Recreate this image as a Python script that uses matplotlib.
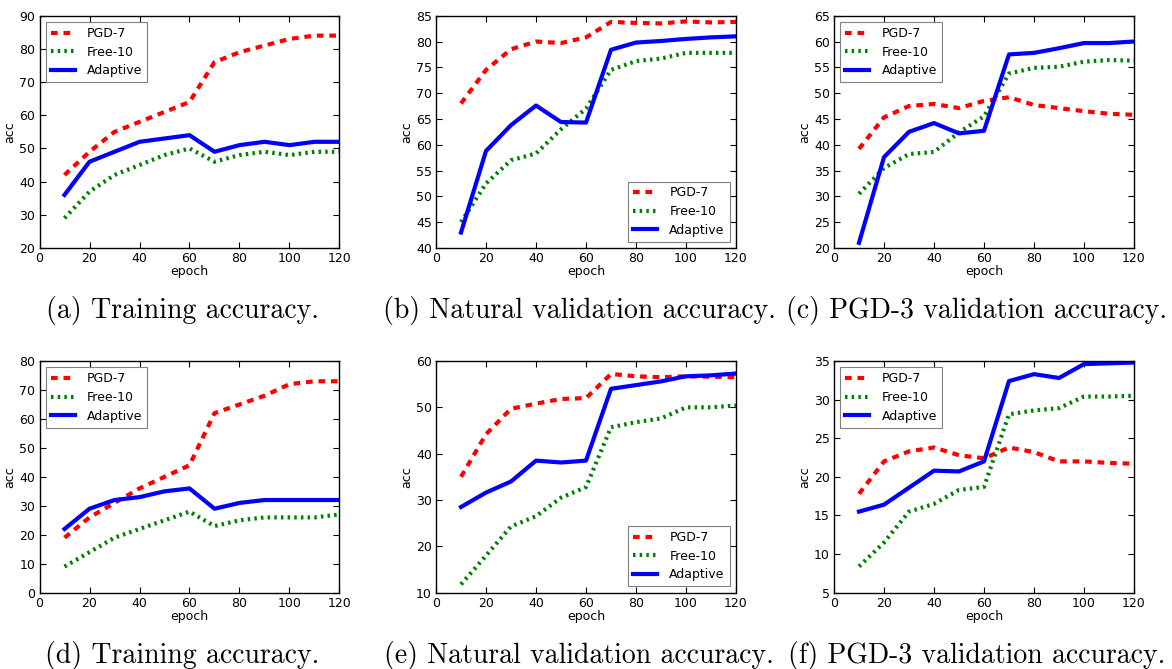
import matplotlib
matplotlib.use("Agg")
import matplotlib.pyplot as plt

epochs = [10, 20, 30, 40, 50, 60, 70, 80, 90, 100, 110, 120]

# (a) training accuracy, top row
pgd_a = [42, 49, 55, 58, 61, 64, 76, 79, 81, 83, 84, 84]
free_a = [29, 37, 42, 45, 48, 50, 46, 48, 49, 48, 49, 49]
adap_a = [36, 46, 49, 52, 53, 54, 49, 51, 52, 51, 52, 52]

# (b) natural validation accuracy
pgd_b = [68, 74.5, 78.5, 80, 79.7, 80.8, 83.8, 83.6, 83.5, 83.9, 83.7, 83.8]
free_b = [45, 52.5, 57, 58.3, 63, 67, 74.5, 76.2, 76.7, 77.8, 77.8, 77.8]
adap_b = [43, 58.8, 63.8, 67.6, 64.4, 64.3, 78.4, 79.8, 80.1, 80.5, 80.8, 81]

# (c) PGD-3 validation accuracy
pgd_c = [39.2, 45.3, 47.5, 47.9, 47.1, 48.5, 49.2, 47.7, 47.1, 46.5, 46, 45.8]
free_c = [30.5, 35.5, 38.2, 38.6, 42.4, 45.5, 53.8, 54.9, 55.1, 56.1, 56.4, 56.3]
adap_c = [21, 37.6, 42.5, 44.2, 42.2, 42.7, 57.5, 57.8, 58.7, 59.7, 59.7, 60]

# (d) training accuracy, bottom row
pgd_d = [19, 26, 31, 36, 40, 44, 62, 65, 68, 72, 73, 73]
free_d = [9, 14, 19, 22, 25, 28, 23, 25, 26, 26, 26, 27]
adap_d = [22, 29, 32, 33, 35, 36, 29, 31, 32, 32, 32, 32]

# (e) natural validation accuracy
pgd_e = [35, 44.2, 49.7, 50.8, 51.8, 52, 57.2, 56.7, 56.5, 56.7, 56.6, 56.5]
free_e = [11.8, 18, 24.3, 26.5, 30.5, 32.8, 45.7, 46.8, 47.6, 50, 50, 50.4]
adap_e = [28.5, 31.6, 34, 38.5, 38.1, 38.5, 54, 54.8, 55.6, 56.7, 56.9, 57.3]

# (f) PGD-3 validation accuracy
pgd_f = [17.8, 22, 23.3, 23.8, 22.8, 22.4, 23.8, 23.2, 22, 22, 21.8, 21.7]
free_f = [8.4, 11.5, 15.5, 16.5, 18.3, 18.7, 28.1, 28.6, 28.9, 30.4, 30.4, 30.5]
adap_f = [15.5, 16.4, 18.6, 20.8, 20.7, 22, 32.4, 33.3, 32.8, 34.6, 34.7, 34.8]

captions = [
    "(a) Training accuracy.",
    "(b) Natural validation accuracy.",
    "(c) PGD-3 validation accuracy.",
    "(d) Training accuracy.",
    "(e) Natural validation accuracy.",
    "(f) PGD-3 validation accuracy.",
]
ylims = [(20, 90), (40, 85), (20, 65), (0, 80), (10, 60), (5, 35)]
legend_locs = ["upper left", "lower right", "upper left",
               "upper left", "lower right", "upper left"]
panels = [
    (pgd_a, free_a, adap_a),
    (pgd_b, free_b, adap_b),
    (pgd_c, free_c, adap_c),
    (pgd_d, free_d, adap_d),
    (pgd_e, free_e, adap_e),
    (pgd_f, free_f, adap_f),
]

plt.rcParams.update({
    "font.size": 9,
    "xtick.direction": "in",
    "ytick.direction": "in",
    "xtick.top": True,
    "ytick.right": True,
    "xtick.major.size": 4,
    "ytick.major.size": 4,
    "axes.linewidth": 1.0,
})

W, H = 1172, 669
fig = plt.figure(figsize=(W / 100, H / 100), dpi=100)

lefts = [39.5, 436, 834]
tops = [15.7, 361]
heights = [232.3, 231.7]
width = 300

for i, (pgd, free, adap) in enumerate(panels):
    row, col = divmod(i, 3)
    l = lefts[col]
    t = tops[row]
    h = heights[row]
    ax = fig.add_axes([l / W, 1 - (t + h) / H, width / W, h / H])
    ax.plot(epochs, pgd, color="red", lw=3, linestyle=(0, (1.6, 1.4)), label="PGD-7")
    ax.plot(epochs, free, color="green", lw=3, linestyle=(0, (0.6, 1.0)), label="Free-10")
    ax.plot(epochs, adap, color="blue", lw=3, label="Adaptive")
    ax.set_xlim(0, 120)
    ax.set_ylim(*ylims[i])
    ax.set_xlabel("epoch", labelpad=0)
    ax.set_ylabel("acc", labelpad=2)
    ax.tick_params(labelsize=9, pad=3)
    leg = ax.legend(loc=legend_locs[i], fontsize=9, fancybox=False,
                    edgecolor="0.5", handlelength=1.9, handletextpad=1.0,
                    borderpad=0.4, labelspacing=0.45, framealpha=1)
    leg.get_frame().set_linewidth(0.8)

    cx = (l + width / 2 - 7) / W
    cy = 1 - (310 if row == 0 else 655) / H
    fig.text(cx, cy, captions[i], ha="center", va="center",
             fontsize=20, family=["cmr10", "DejaVu Serif"])

fig.savefig("out.png", dpi=100)
